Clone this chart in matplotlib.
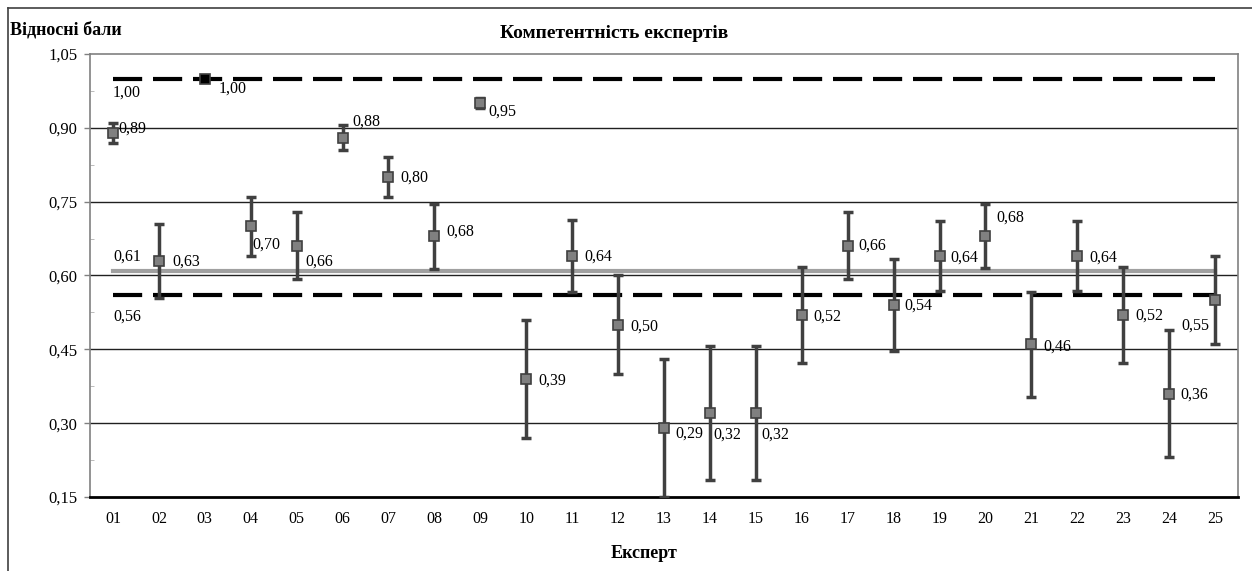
import matplotlib
matplotlib.use("Agg")
import matplotlib.pyplot as plt
from matplotlib.lines import Line2D
from matplotlib.ticker import MultipleLocator, FuncFormatter

plt.rcParams['font.family'] = ['Liberation Serif', 'DejaVu Serif']

experts = ["01", "02", "03", "04", "05", "06", "07", "08", "09", "10", "11", "12", "13",
           "14", "15", "16", "17", "18", "19", "20", "21", "22", "23", "24", "25"]
scores = [0.89, 0.63, 1.00, 0.70, 0.66, 0.88, 0.80, 0.68, 0.95, 0.39, 0.64, 0.50, 0.29,
          0.32, 0.32, 0.52, 0.66, 0.54, 0.64, 0.68, 0.46, 0.64, 0.52, 0.36, 0.55]
errors = [0.02, 0.075, 0.0, 0.06, 0.068, 0.026, 0.04, 0.066, 0.01, 0.12, 0.073, 0.10, 0.14,
          0.136, 0.136, 0.097, 0.068, 0.093, 0.071, 0.065, 0.107, 0.071, 0.097, 0.129, 0.09]
upper_level = 1.00
mean_level = 0.61
lower_level = 0.56

title = "Компетентність експертів"
ylabel = "Відносні бали"
xlabel = "Експерт"

# label offsets in pixels (dx, dy; dy positive = down)
label_offsets = [(5, -4), (13, 1), (14, 10), (2, 18), (9, 16), (10, -16), (12, 1), (12, -4),
                 (8, 8), (12, 2), (12, 1), (12, 2), (11, 6), (3, 21), (6, 21), (12, 2),
                 (11, 0), (11, 1), (11, 2), (11, -18), (12, 2), (12, 2), (12, 1), (11, 1),
                 (-6, 26)]

fig = plt.figure(figsize=(12.52, 5.71), dpi=100)
ax = fig.add_axes([90 / 1252, 1 - 497 / 571, (1238 - 90) / 1252, (497 - 54) / 571])

x = list(range(1, len(experts) + 1))

# grid
for v in [0.30, 0.45, 0.60, 0.75, 0.90]:
    ax.axhline(v, color='#202020', lw=1.0, zorder=1)

# reference lines
ax.plot([1, 25], [upper_level, upper_level], color='black', lw=3, dashes=(7, 2.6), zorder=2)
ax.plot([1, 25], [lower_level, lower_level], color='black', lw=3, dashes=(7, 2.6), zorder=2)
ax.plot([1, 25], [mean_level, mean_level], color='#a0a0a0', lw=3, zorder=2)

# error bars and markers
for i in range(len(x)):
    if errors[i] > 0:
        ax.errorbar(x[i], scores[i], yerr=errors[i], fmt='none', ecolor='#404040',
                    elinewidth=2.5, capsize=3.5, capthick=2.5, zorder=3)
    fc = 'black' if scores[i] >= 1.0 else '#808080'
    ax.plot(x[i], scores[i], marker='s', ms=7.5, mfc=fc, mec='#404040', mew=1.2,
            ls='none', zorder=4)

def fmt(v):
    return f"{v:.2f}".replace('.', ',')

for i in range(len(x)):
    dx, dy = label_offsets[i]
    ha = 'left' if dx >= 0 else 'right'
    ax.annotate(fmt(scores[i]), (x[i], scores[i]), xytext=(dx * 0.72, -dy * 0.72),
                textcoords='offset points', ha=ha, va='center', fontsize=11.5, zorder=5)

# reference labels
ax.annotate(fmt(upper_level), (1, upper_level), xytext=(0, -14 * 0.72), textcoords='offset points',
            ha='left', va='center', fontsize=11.5)
ax.annotate(fmt(mean_level), (1, mean_level), xytext=(0, 14 * 0.72), textcoords='offset points',
            ha='left', va='center', fontsize=11.5)
ax.annotate(fmt(lower_level), (1, lower_level), xytext=(0, -21 * 0.72), textcoords='offset points',
            ha='left', va='center', fontsize=11.5)

ax.set_xlim(0.5, 25.5)
ax.set_ylim(0.15, 1.05)
ax.set_xticks(x)
ax.set_xticklabels(experts, fontsize=11.5)
ax.yaxis.set_major_locator(MultipleLocator(0.15))
ax.yaxis.set_minor_locator(MultipleLocator(0.075))
ax.yaxis.set_major_formatter(FuncFormatter(lambda v, p: fmt(v)))
ax.tick_params(axis='y', labelsize=12, color='#808080', length=4, width=1, pad=5)
ax.tick_params(axis='y', which='minor', color='#b0b0b0', length=3, direction='in')
ax.tick_params(axis='x', length=0, pad=10)

for s in ['left', 'top', 'right']:
    ax.spines[s].set_color('#808080')
    ax.spines[s].set_linewidth(1.2)
ax.spines['bottom'].set_color('black')
ax.spines['bottom'].set_linewidth(2)

fig.text(614 / 1252, 1 - 34 / 571, title, ha='center', va='center', fontsize=14, fontweight='bold')
fig.text(10 / 1252, 1 - 30 / 571, ylabel, ha='left', va='center', fontsize=13, fontweight='bold')
fig.text(644 / 1252, 1 - 554 / 571, xlabel, ha='center', va='center', fontsize=13, fontweight='bold')

# outer chart border
fig.add_artist(Line2D([8 / 1252, 8 / 1252], [0, 1 - 8 / 571], transform=fig.transFigure,
                      color='#404040', lw=1.2))
fig.add_artist(Line2D([8 / 1252, 1], [1 - 8 / 571, 1 - 8 / 571], transform=fig.transFigure,
                      color='#404040', lw=1.2))

fig.savefig("out.png", dpi=100)
